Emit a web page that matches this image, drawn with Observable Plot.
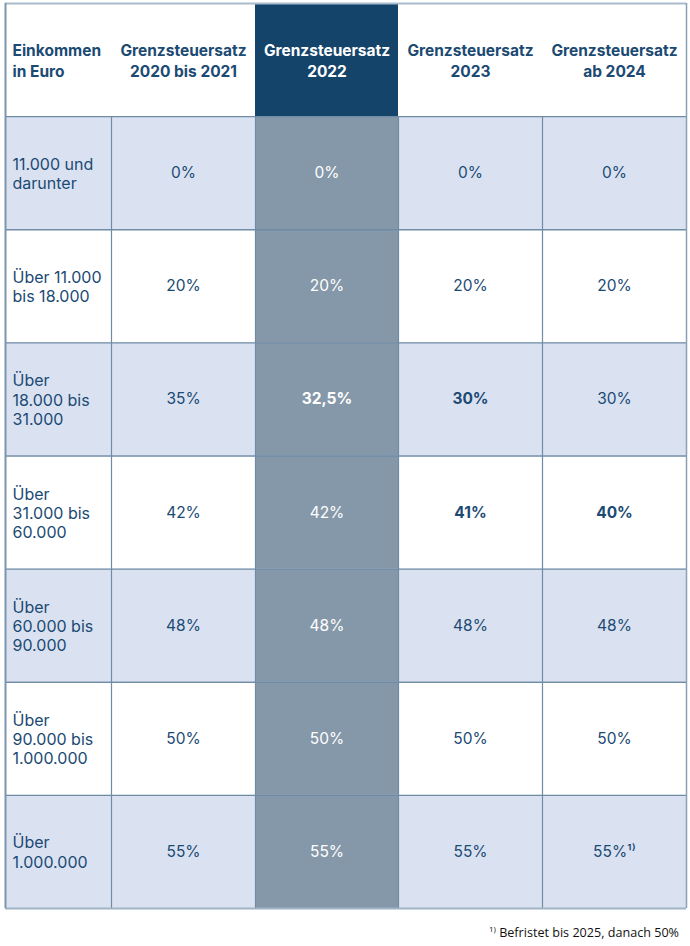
<!DOCTYPE html>
<html>
<head>
<meta charset="utf-8">
<script src="https://cdn.jsdelivr.net/npm/d3@7"></script>
<script src="https://cdn.jsdelivr.net/npm/@observablehq/plot@0.6"></script>
<style>
  body { margin: 0; background: #ffffff; }
  #chart svg { display: block; }
  #caption {
    font-family: "Open Sans", Lato, sans-serif;
    font-size: 12.6px;
    color: #111111;
    text-align: right;
    padding-right: 11px;
    margin-top: 13px;
    line-height: 16px;
  }
  #caption sup { font-size: 8px; vertical-align: 5px; line-height: 0; }
</style>
</head>
<body>
<div id="chart"></div>
<div id="caption"></div>
<script>
// ---------- data ----------
const columnHeaders = [
  "Einkommen\nin Euro",
  "Grenzsteuersatz\n2020 bis 2021",
  "Grenzsteuersatz\n2022",
  "Grenzsteuersatz\n2023",
  "Grenzsteuersatz\nab 2024"
];
const incomeBrackets = [
  "11.000 und\ndarunter",
  "Über 11.000\nbis 18.000",
  "Über\n18.000 bis\n31.000",
  "Über\n31.000 bis\n60.000",
  "Über\n60.000 bis\n90.000",
  "Über\n90.000 bis\n1.000.000",
  "Über\n1.000.000"
];
const rate2020to2021 = [0, 20, 35, 42, 48, 50, 55];
const rate2022 = [0, 20, 32.5, 42, 48, 50, 55];
const rate2023 = [0, 20, 30, 41, 48, 50, 55];
const rate2024 = [0, 20, 30, 40, 48, 50, 55];
const footnoteMarks2024 = ["", "", "", "", "", "", "¹⁾"];
const footnoteMark = "1)";
const footnoteText = "Befristet bis 2025, danach 50%";

// ---------- layout ----------
const colWidths = [106, 144, 143, 144, 144];
const highlightCol = 2;
const edges = Array.from(d3.cumsum([0, ...colWidths]));
const total = edges[edges.length - 1];
const navy = "#1b4a73";
const headerFill = "#15446b";
const highlightFill = "#8598a9";
const stripeFill = "#dae2f2";
const lineColor = "#6f8ba5";
const fontFamily = "Inter, 'Noto Sans', sans-serif";

const rateSeries = [rate2020to2021, rate2022, rate2023, rate2024];
const fmt = v => String(v).replace(".", ",") + "%";

// header cells
const headerCells = columnHeaders.map((t, c) => ({c, t}));
// body cells
const bodyCells = [];
incomeBrackets.forEach((label, r) => {
  for (let c = 0; c < columnHeaders.length; c++) {
    let text, bold = false;
    if (c === 0) text = label;
    else {
      const s = c - 1;
      const v = rateSeries[s][r];
      text = fmt(v) + (s === 3 ? footnoteMarks2024[r] : "");
      bold = s > 0 && v !== rateSeries[s - 1][r];
    }
    const fill = c === highlightCol ? highlightFill : (r % 2 === 0 ? stripeFill : "#ffffff");
    const textFill = c === highlightCol ? "#ffffff" : navy;
    bodyCells.push({r, c, text, bold, fill, textFill});
  }
});

const xCenter = d => (edges[d.c] + edges[d.c + 1]) / 2;
const xLeft = d => edges[d.c] + 7;
const nRows = incomeBrackets.length + 1;

const plot = Plot.plot({
  width: 690,
  height: 912,
  margin: 0,
  x: {type: "linear", domain: [0, total], range: [5, 686], axis: null},
  y: {type: "linear", domain: [0, nRows], range: [3, 908], axis: null},
  color: {type: "identity"},
  marks: [
    // body cell backgrounds
    Plot.rect(bodyCells, {
      x1: d => edges[d.c], x2: d => edges[d.c + 1],
      y1: d => d.r + 1, y2: d => d.r + 2,
      fill: d => d.fill
    }),
    // highlighted header cell
    Plot.rect(headerCells.filter(d => d.c === highlightCol), {
      x1: d => edges[d.c], x2: d => edges[d.c + 1],
      y1: 0, y2: 1, fill: headerFill
    }),
    // horizontal separators
    Plot.ruleY(d3.range(1, nRows), {
      y: d => d, x1: 0, x2: total, stroke: lineColor, strokeWidth: 1.3
    }),
    // vertical separators in body
    Plot.ruleX(edges.slice(1, -1), {
      x: d => d, y1: 1, y2: nRows, stroke: lineColor, strokeWidth: 1.2
    }),
    // outer border
    Plot.ruleY([0], {x1: 0, x2: total, stroke: "#a9bccb", strokeWidth: 2}),
    Plot.ruleY([nRows], {x1: 0, x2: total, stroke: "#9fb3c6", strokeWidth: 2}),
    Plot.ruleX([0], {y1: 0, y2: nRows, stroke: "#7d96ad", strokeWidth: 2}),
    Plot.ruleX([total], {y1: 0, y2: nRows, stroke: "#8aa0b5", strokeWidth: 1.5}),
    // header text: first column left-aligned
    Plot.text(headerCells.filter(d => d.c === 0), {
      x: xLeft, y: 0.5, text: "t", textAnchor: "start",
      fill: navy, fontWeight: 700, fontSize: 15.5, lineHeight: 1.3, fontFamily
    }),
    // header text: rate columns centred
    Plot.text(headerCells.filter(d => d.c !== 0), {
      x: xCenter, y: 0.5, text: "t", textAnchor: "middle",
      fill: d => d.c === highlightCol ? "#ffffff" : navy,
      fontWeight: 700, fontSize: 15.5, lineHeight: 1.3, fontFamily
    }),
    // income bracket labels
    Plot.text(bodyCells.filter(d => d.c === 0), {
      x: xLeft, y: d => d.r + 1.5, text: "text", textAnchor: "start",
      fill: navy, fontSize: 16, lineHeight: 1.2, fontFamily
    }),
    // body rates regular
    Plot.text(bodyCells.filter(d => d.c !== 0 && !d.bold), {
      x: xCenter, y: d => d.r + 1.5, text: "text", textAnchor: "middle",
      fill: d => d.textFill, fontSize: 15.5, fontFamily
    }),
    // body rates bold (changed rates)
    Plot.text(bodyCells.filter(d => d.bold), {
      x: xCenter, y: d => d.r + 1.5, text: "text", textAnchor: "middle",
      fill: d => d.textFill, fontWeight: 700, fontSize: 15.5, fontFamily
    })
  ]
});
document.getElementById("chart").appendChild(plot);

const cap = document.getElementById("caption");
const sup = document.createElement("sup");
sup.textContent = footnoteMark;
cap.appendChild(sup);
cap.appendChild(document.createTextNode(" " + footnoteText));
</script>
</body>
</html>
